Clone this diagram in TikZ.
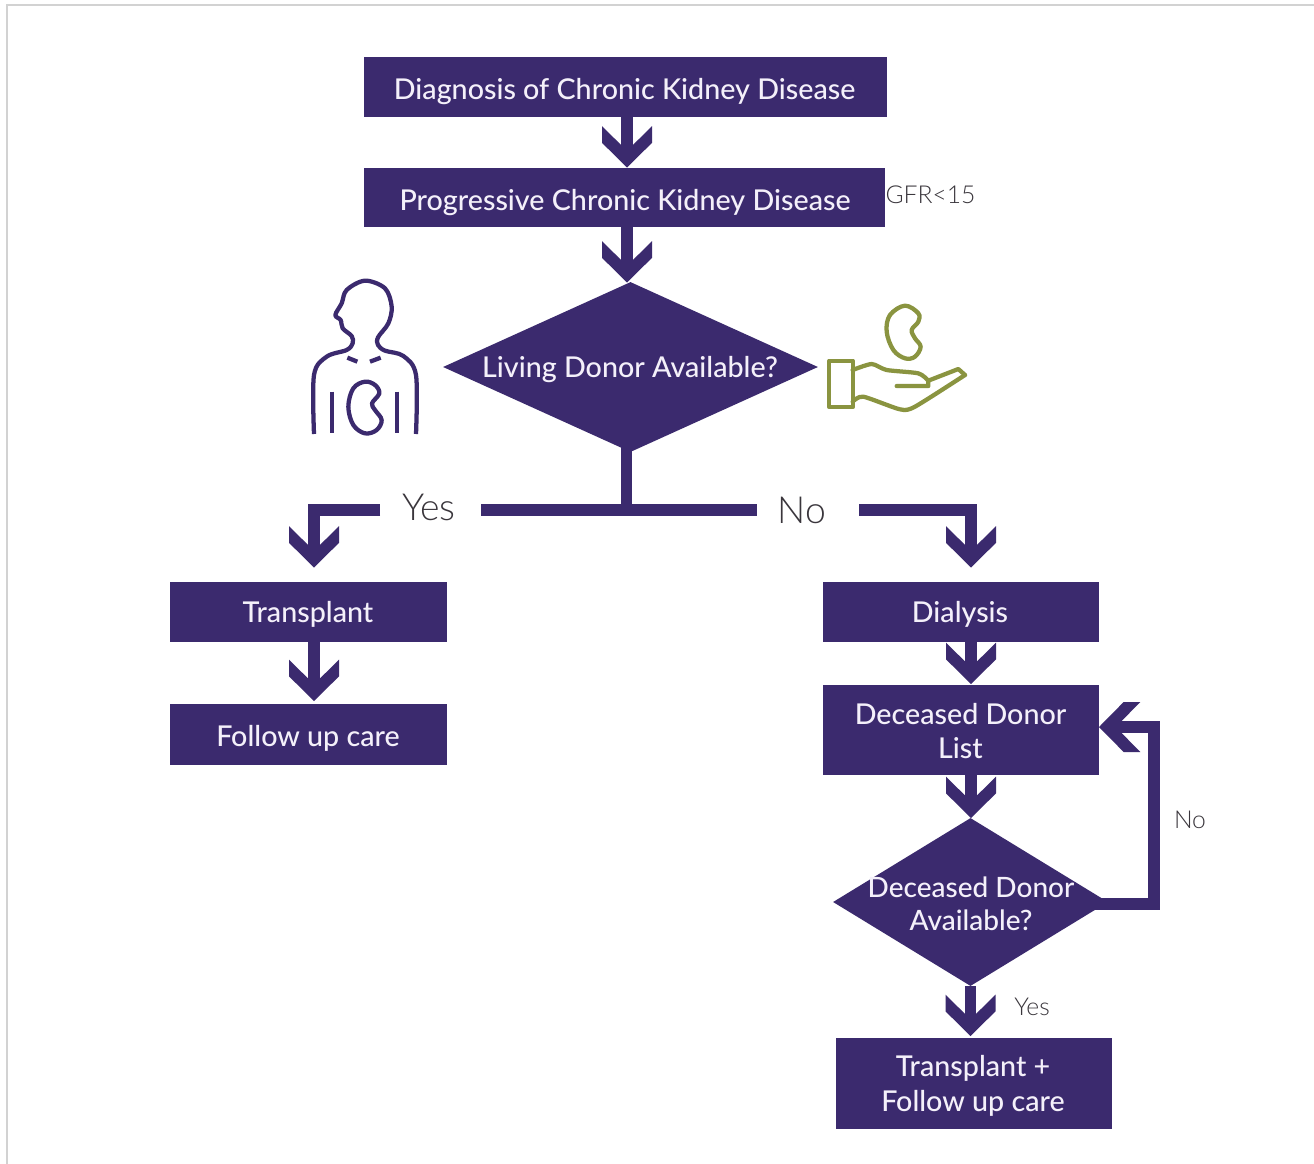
\documentclass[tikz,border=0pt]{standalone}
\usepackage{fontspec}
\setmainfont{Lato}
\newfontfamily\boxfont{Lato Medium}
\newfontfamily\thinfont{Lato Light}
\usetikzlibrary{arrows.meta,shapes.geometric,calc}
\definecolor{brandpurple}{HTML}{3B2A6E}
\definecolor{brandolive}{HTML}{8A9440}
\definecolor{framegray}{HTML}{D2D2D2}
\definecolor{lightlabel}{HTML}{F4F0FA}
\definecolor{darklabel}{HTML}{3A363C}
\pgfdeclarearrow{
  name=Chev,
  setup code={%
    \pgfarrowssettipend{0pt}%
    \pgfarrowssetlineend{-9pt}%
    \pgfarrowssetvisualbackend{-31pt}%
    \pgfarrowssetbackend{-31pt}%
    \pgfarrowshullpoint{0pt}{0pt}%
  },
  drawing code={%
    \pgfpathmoveto{\pgfqpoint{0pt}{0pt}}%
    \pgfpathlineto{\pgfqpoint{-18.5pt}{18.75pt}}%
    \pgfpathlineto{\pgfqpoint{-31pt}{18.75pt}}%
    \pgfpathlineto{\pgfqpoint{-12.5pt}{0pt}}%
    \pgfpathlineto{\pgfqpoint{-31pt}{-18.75pt}}%
    \pgfpathlineto{\pgfqpoint{-18.5pt}{-18.75pt}}%
    \pgfpathclose
    \pgfusepathqfill
  },
}
\tikzset{
  boxnode/.style={fill=brandpurple,inner sep=0pt},
  boxtext/.style={text=lightlabel,align=center,font=\boxfont\fontsize{21.5}{26}\selectfont,inner sep=0pt},
  diamnode/.style={diamond,fill=brandpurple,inner sep=0pt,aspect=1},
  dtext/.style={text=lightlabel,align=center,font=\boxfont\fontsize{21}{25}\selectfont,inner sep=0pt},
  conn/.style={draw=brandpurple,line width=8.75pt,-{Chev},line join=miter},
  plainline/.style={draw=brandpurple,line width=8.75pt},
  biglabel/.style={text=darklabel,font=\thinfont\fontsize{28}{30}\selectfont,inner sep=0pt},
  smalllabel/.style={text=darklabel,font=\thinfont\fontsize{18.5}{22}\selectfont,inner sep=0pt},
  iconpurple/.style={draw=brandpurple,line width=3.2pt,line cap=butt,line join=round},
  iconolive/.style={draw=brandolive,line width=3.2pt,line cap=round,line join=round},
}
\begin{document}
\begin{tikzpicture}[x=0.75pt,y=-0.75pt]
\useasboundingbox (0,0) rectangle (1314,1164);
\fill[white] (0,0) rectangle (1314,1164);
\draw[framegray,line width=1.8pt] (7,1164) -- (7,5.2) -- (1314,5.2);

% boxes
\node[boxnode,minimum width=392pt,minimum height=45pt] (diag) at (625.5,87) {};
\node[boxtext] (diagtext) at (624.5,92) {Diagnosis of Chronic Kidney Disease};
\node[boxnode,minimum width=390.75pt,minimum height=44.25pt] (prog) at (624.5,197.5) {};
\node[boxtext] (progtext) at (625,203) {Progressive Chronic Kidney Disease};
\node[diamnode,minimum width=281.25pt,minimum height=127.5pt] (d1) at (630.5,367) {};
\node[dtext,font=\boxfont\fontsize{21.5}{25}\selectfont] (d1text) at (630,370) {Living Donor Available?};
\node[boxnode,minimum width=207.75pt,minimum height=45pt] (tp) at (308.5,612) {};
\node[boxtext] (tptext) at (308,614) {Transplant};
\node[boxnode,minimum width=207.75pt,minimum height=45.75pt] (fu) at (308.5,734.5) {};
\node[boxtext] (futext) at (308,738) {Follow up care};
\node[boxnode,minimum width=207pt,minimum height=45pt] (dial) at (961,612) {};
\node[boxtext] (dialtext) at (960,614) {Dialysis};
\node[boxnode,minimum width=207pt,minimum height=67.5pt] (ddl) at (961,730) {};
\node[boxtext] (ddltext) at (960.5,731) {Deceased Donor\\List};
\node[diamnode,minimum width=206.25pt,minimum height=126pt] (d2) at (970.5,902) {};
\node[dtext] (d2text) at (971,904) {Deceased Donor\\Available?};
\node[boxnode,minimum width=207pt,minimum height=68.25pt] (tpfu) at (974,1083.5) {};
\node[boxtext] (tpfutext) at (973,1086) {Transplant +\\Follow up care};

% labels
\node[smalllabel] (gfr) at (930.5,195) {GFR<15};
\node[biglabel] (yes1) at (429,507) {Yes};
\node[biglabel] (no1) at (802,510) {No};
\node[smalllabel] (no2) at (1190,820) {No};
\node[smalllabel] (yes2) at (1032,1007) {Yes};

% connector coordinates
\coordinate (junc) at (626,510);
\coordinate (yesgapR) at (481,510);
\coordinate (yesgapL) at (380,510);
\coordinate (nogapL) at (757,510);
\coordinate (nogapR) at (859,510);
\coordinate (tpin) at (314,567.5);
\coordinate (dialin) at (971,567.5);
\coordinate (loopc) at (1154,727);
\coordinate (loopout) at (1095,904);

% connectors
\draw[conn] (627,117) -- (627,167.5);
\draw[conn] (627,227) -- (627,282.5);
\draw[plainline,line width=8.25pt] (626,445) -- (junc);
\draw[plainline] (yesgapR) -- (nogapL);
\draw[conn] (yesgapL) -| (tpin);
\draw[conn] (nogapR) -| (dialin);
\draw[conn] (tp.south -| tpin) -- (314,701);
\draw[conn] (dial.south -| dialin) -- (971,684);
\draw[conn] (ddl.south -| dialin) -- (971,818);
\draw[conn] (d2.south) -- (970.5,1036);
\draw[conn] (loopout) -| (loopc) -- (1099,727);

% person icon
\begin{scope}[shift={(290,260)},x=0.25pt,y=-0.25pt]
\draw[iconpurple] plot[smooth,tension=.55] coordinates {(72,522) (72,345) (110,290) (170,270) (188,250) (185,228) (158,205) (152,180) (136,165) (155,130) (170,90) (225,62) (285,85) (305,140) (295,190) (264,232) (264,255) (285,272) (340,288) (378,345) (378,522)};
\draw[iconpurple] (172,293) -- (202,305);
\draw[iconpurple] (272,293) -- (240,305);
\draw[iconpurple] (127,395) -- (127,518);
\draw[iconpurple] (322,395) -- (322,518);
\draw[iconpurple] plot[smooth cycle,tension=.6] coordinates {(225,365) (255,375) (268,400) (246,430) (255,450) (275,480) (260,510) (225,520) (190,495) (175,440) (190,385)};
\end{scope}

% hand icon
\begin{scope}[shift={(800,290)},x=0.25pt,y=-0.25pt]
\draw[iconolive] plot[smooth cycle,tension=.6] coordinates {(315,47) (355,70) (355,95) (335,120) (345,145) (362,170) (345,200) (315,205) (280,180) (260,125) (270,75)};
\draw[iconolive] (88,212) rectangle (158,352);
\draw[iconolive] plot[smooth,tension=.4] coordinates {(158,240) (215,222) (260,240) (355,250) (385,272)};
\draw[iconolive] (290,288) -- (385,288) -- (385,272) -- (475,237) -- (495,255);
\draw[iconolive] plot[smooth,tension=.4] coordinates {(495,255) (345,350) (300,358) (190,320) (158,335)};
\end{scope}
\end{tikzpicture}
\end{document}
